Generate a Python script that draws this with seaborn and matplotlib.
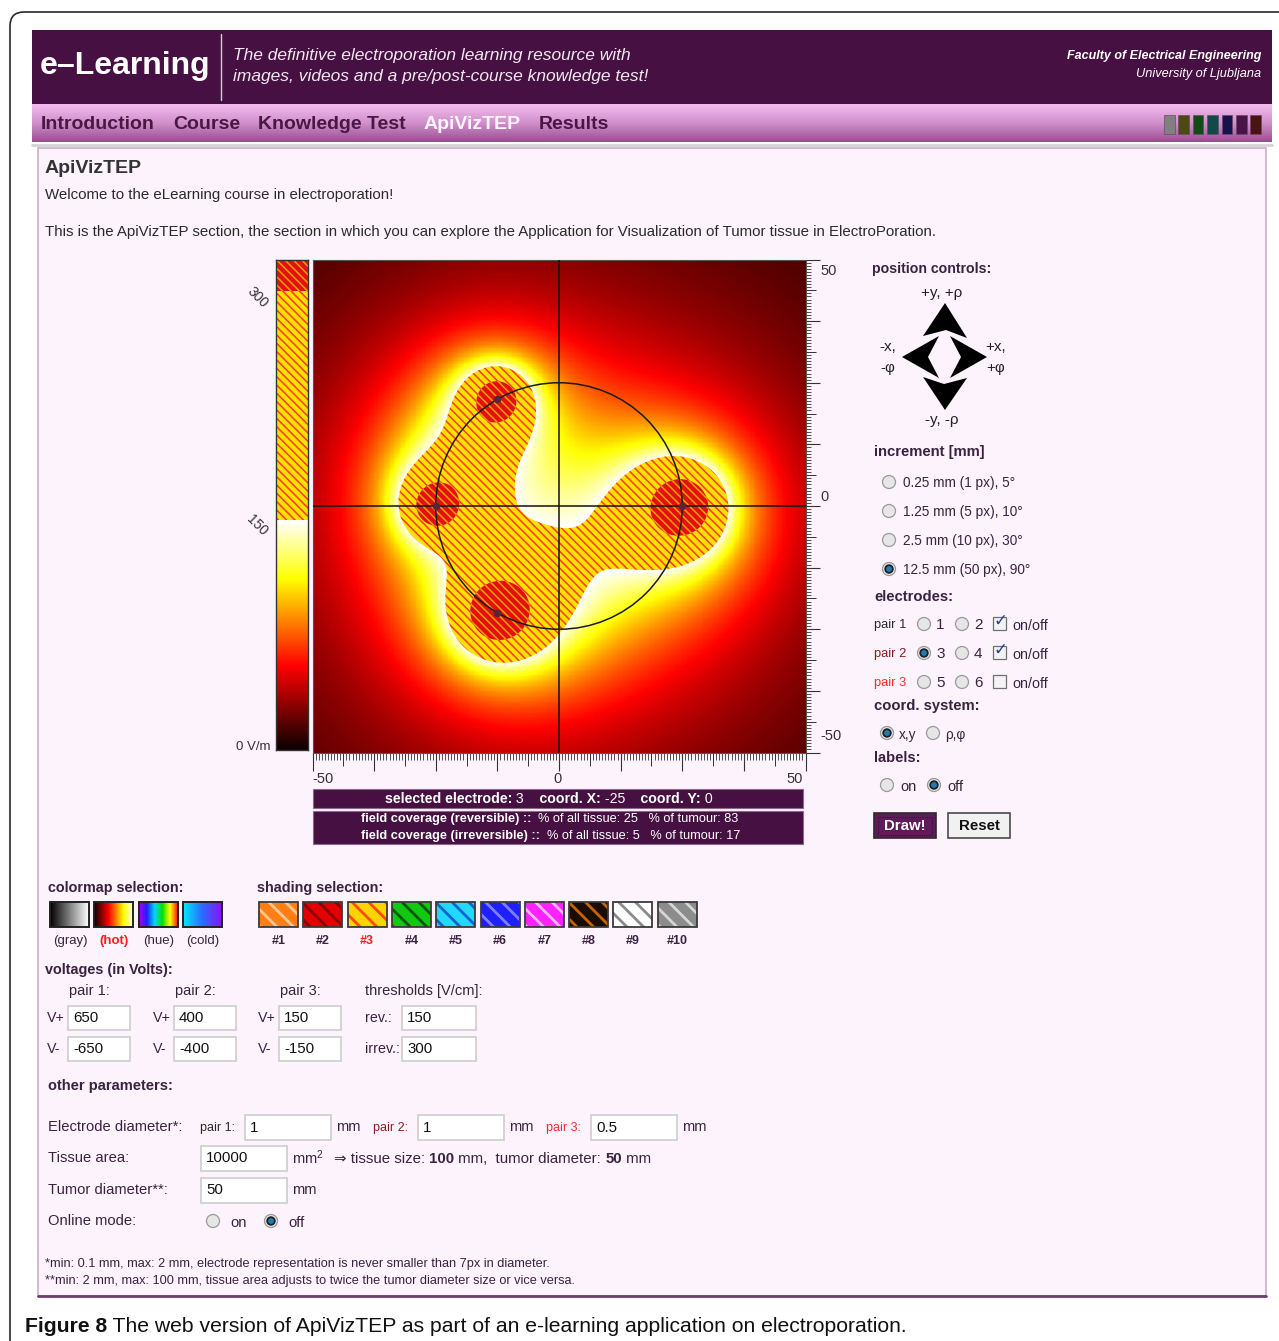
import numpy as np
import pandas as pd
import matplotlib
matplotlib.use("Agg")
import matplotlib.pyplot as plt
import seaborn as sns
from matplotlib.patches import Rectangle, Circle, Polygon, FancyBboxPatch, PathPatch
from matplotlib.colors import LinearSegmentedColormap

# ---------------- app state shown in the screenshot ----------------
tissue_size = 100            # mm
tumor_diameter = 50          # mm
tissue_area = 10000          # mm^2
electrode_no = [1, 2, 3, 4]
electrode_angle = [240, 0, 180, 120]      # position on the tumour rim [deg]
electrode_pair = [1, 1, 2, 2]
electrode_sign = [1, -1, 1, -1]
pair_labels = ["pair 1", "pair 2", "pair 3"]
v_plus = [650, 400, 150]
v_minus = [-650, -400, -150]
pair_on = [True, True, False]
electrode_diam = [1, 1, 0.5]              # mm
thr_rev = 150                             # V/cm
thr_irrev = 300                           # V/cm
cbar_top = 320                            # V/cm
sel_electrode, sel_x, sel_y = 3, -25, 0
cover_rev = (25, 83)
cover_irrev = (5, 17)
near_gain = 2.0                           # app calibration of the field model
far_gain = 2.2

nav_items = ["Introduction", "Course", "Knowledge Test", "ApiVizTEP", "Results"]
nav_x = [41, 173, 258, 424, 539]
nav_squares = ["#808080", "#4b4a12", "#124b14", "#124a4a", "#14134a", "#4a1246", "#4a1212"]
increments = ["0.25 mm (1 px), 5°", "1.25 mm (5 px), 10°", "2.5 mm (10 px), 30°", "12.5 mm (50 px), 90°"]
increment_sel = 3
cmap_labels = ["(gray)", "(hot)", "(hue)", "(cold)"]
cmap_sel = 1
shading_labels = ["#1", "#2", "#3", "#4", "#5", "#6", "#7", "#8", "#9", "#10"]
shading_bg = ["#ff7f14", "#e40000", "#ffd400", "#12c812", "#22d8ff", "#1e1eff", "#ff22ff", "#1a0d00", "#ffffff", "#8c8c8c"]
shading_fg = ["#ffc890", "#8c0000", "#ff4a00", "#005a00", "#1060d8", "#8080ff", "#ffb4ff", "#c86400", "#8a8a8a", "#d6d6d6"]
shading_sel = 2

# ---------------- style ----------------
sns.set_theme(style="white")
plt.rcParams["font.family"] = ["Liberation Sans", "DejaVu Sans"]
plt.rcParams["mathtext.default"] = "regular"
plt.rcParams["hatch.linewidth"] = 1.1

PURPLE = "#461042"
TXT = "#2a2a2a"
LBL = "#3a2240"
REV_BG, REV_HATCH = "#ffe000", "#ff3a10"
IRR_BG, IRR_HATCH = "#e41010", "#f0a000"
FINE_HATCH = "\\\\\\\\"
W, H = 1279, 1341

fig = plt.figure(figsize=(W / 100, H / 100), dpi=100)
ax = fig.add_axes([0, 0, 1, 1])
ax.axis("off")


def px_axes(l, t, w, h):
    return fig.add_axes([l / W, 1 - (t + h) / H, w / W, h / H])


def txt(x, y, s, size=10, weight="normal", color=TXT, ha="left", **kw):
    return ax.text(x, y, s, size=size, weight=weight, color=color, ha=ha, va="center", **kw)


def rich(x, y, parts, size=10, color=TXT):
    t = None
    for s, w in parts:
        if t is None:
            t = ax.text(x, y, s, size=size, weight=w, color=color, ha="left", va="center")
        else:
            t = ax.annotate(s, xy=(1, 0), xycoords=t, size=size, weight=w, color=color,
                            ha="left", va="bottom")
    return t


def radio(x, y, on=False):
    ax.add_patch(Circle((x, y), 6.5, fc="#e6e6e6", ec="#9a9a9a", lw=0.9))
    if on:
        ax.add_patch(Circle((x, y), 3.8, fc="#1f7cb8", ec="#202020", lw=1.3))


def checkbox(x, y, on=False):
    ax.add_patch(Rectangle((x - 6.5, y - 6.5), 13, 13, fc="#f3f3f3", ec="#707070", lw=0.9))
    if on:
        ax.text(x + 1, y - 2, "✓", size=12, color="#2b3f8f", ha="center", va="center",
                family=["DejaVu Sans"])


def inbox(x, top, w, h, val, size=10.8):
    ax.add_patch(Rectangle((x, top), w, h, fc="white", ec="#cdcdcd", lw=1.2))
    ax.text(x + 5, top + h / 2, val, size=size, color="#111111", ha="left", va="center")


# ---------------- page frame, header, navigation ----------------
ax.add_patch(FancyBboxPatch((10, 12), 1320, 1400, boxstyle="round,pad=0,rounding_size=14",
                            fc="white", ec="#2a2a2a", lw=1.2))
ax.add_patch(Rectangle((32, 30), 1240, 74, fc=PURPLE, ec="none"))
txt(40, 66, "e–Learning", size=23, weight="bold", color="white")
ax.plot([221, 221], [34, 100], color="#d8c8d6", lw=1)
txt(233, 55, "The definitive electroporation learning resource with", size=12.5, style="italic", color="#f2e8f1")
txt(233, 76, "images, videos and a pre/post-course knowledge test!", size=12.5, style="italic", color="#f2e8f1")
txt(1261, 56, "Faculty of Electrical Engineering", size=9, weight="bold", style="italic", color="white", ha="right")
txt(1261, 74, "University of Ljubljana", size=9.2, style="italic", color="white", ha="right")

nav_cmap = LinearSegmentedColormap.from_list("nav", ["#f3bcef", "#d08fca", "#9a4e94"])
ax.imshow(np.linspace(0, 1, 64)[:, None], extent=(32, 1272, 142, 104), cmap=nav_cmap,
          aspect="auto", zorder=1)
for name, x in zip(nav_items, nav_x):
    txt(x, 124, name, size=14, weight="bold", color="#fff4ff" if name == "ApiVizTEP" else "#4a1745", zorder=3)
for i, c in enumerate(nav_squares):
    ax.add_patch(Rectangle((1164 + i * 14.4, 115), 10.5, 19, fc=c, ec="#6a4a66", lw=0.5, zorder=3))
ax.plot([32, 1272], [145, 145], color="#d5d5d5", lw=2)

# content panel
ax.add_patch(Rectangle((38, 148), 1228, 1148, fc="#fdf3fc", ec="#c6b2c3", lw=1.2))
ax.plot([38, 1266], [1296, 1296], color="#6e3d69", lw=2)

txt(45, 168, "ApiVizTEP", size=14, weight="bold", color="#333333")
txt(45, 195, "Welcome to the eLearning course in electroporation!", size=10.8)
txt(45, 232, "This is the ApiVizTEP section, the section in which you can explore the Application "
             "for Visualization of Tumor tissue in ElectroPoration.", size=10.8)

# ---------------- electric field ----------------
n = 400
half = tissue_size / 2
xs = -half + (np.arange(n) + 0.5) * tissue_size / n
ys = xs[::-1]
X, Y = np.meshgrid(xs, ys)
R = tumor_diameter / 2
E = np.zeros_like(X)
for p in range(3):
    if not pair_on[p]:
        continue
    ex_sum = np.zeros_like(X)
    ey_sum = np.zeros_like(X)
    for ang, pr, sg in zip(electrode_angle, electrode_pair, electrode_sign):
        if pr != p + 1:
            continue
        px0, py0 = R * np.cos(np.radians(ang)), R * np.sin(np.radians(ang))
        dx, dy = X - px0, Y - py0
        r = np.maximum(np.hypot(dx, dy), electrode_diam[p] / 2)
        q = sg * v_plus[p]
        k = q * (near_gain / r ** 3 + far_gain / r ** 2)
        ex_sum += k * dx
        ey_sum += k * dy
    E += np.hypot(ex_sum, ey_sum)
field = pd.DataFrame(E, index=np.round(ys, 3), columns=np.round(xs, 3))


def ix(v):
    return (v + half) / tissue_size * n


def iy(v):
    return (half - v) / tissue_size * n


axf = px_axes(312.5, 259.5, 493, 493)
sns.heatmap(field, cmap="hot", vmin=0, vmax=thr_rev, cbar=False, xticklabels=False,
            yticklabels=False, ax=axf, rasterized=True)
cidx = np.arange(n) + 0.5
CX, CY = np.meshgrid(cidx, cidx)
zones = [(thr_rev, thr_irrev, REV_BG, REV_HATCH), (thr_irrev, E.max() + 1, IRR_BG, IRR_HATCH)]
for lo, hi, bg, hc in zones:
    cs = axf.contourf(CX, CY, E, levels=[lo, hi], colors=[bg])
    paths = cs.get_paths()
    cs.remove()
    for pth in paths:
        if len(pth.vertices):
            axf.add_patch(PathPatch(pth, fc=bg, ec=hc, lw=0, hatch=FINE_HATCH, zorder=3))
axf.axhline(iy(0), color="#111111", lw=1.1, zorder=4)
axf.axvline(ix(0), color="#111111", lw=1.1, zorder=4)
axf.add_patch(Circle((ix(0), iy(0)), R / tissue_size * n, fill=False, ec="#1a1a1a", lw=1.1, zorder=4))
for ang, pr in zip(electrode_angle, electrode_pair):
    if pair_on[pr - 1]:
        axf.scatter([ix(R * np.cos(np.radians(ang)))], [iy(R * np.sin(np.radians(ang)))],
                    s=30, color="#562836", zorder=5, linewidths=0)
axf.set_xlim(0, n)
axf.set_ylim(n, 0)
for s in axf.spines.values():
    s.set_visible(True)
    s.set_color("#555555")
    s.set_linewidth(0.8)

major = np.arange(-half, half + 0.01, 12.5)
medium = np.arange(-half + 6.25, half, 12.5)
minor = np.arange(-half, half + 0.01, 0.625)
axf.yaxis.tick_right()
axf.set_xticks(ix(major), labels=[])
axf.set_xticks(ix(minor), minor=True)
axf.set_yticks(iy(major), labels=[])
axf.set_yticks(iy(minor), minor=True)
axf.tick_params(axis="x", which="major", direction="out", length=13, width=0.8, color="#333333", bottom=True)
axf.tick_params(axis="x", which="minor", direction="out", length=5, width=0.6, color="#333333", bottom=True)
axf.tick_params(axis="y", which="major", direction="out", length=10, width=0.8, color="#333333", right=True, left=False)
axf.tick_params(axis="y", which="minor", direction="out", length=3.8, width=0.6, color="#333333", right=True, left=False)
secx = axf.secondary_xaxis("bottom")
secx.set_xticks(ix(medium), labels=[])
secx.tick_params(direction="out", length=9, width=0.7, color="#333333")
secx.spines["bottom"].set_visible(False)
secy = axf.secondary_yaxis("right")
secy.set_yticks(iy(medium), labels=[])
secy.tick_params(direction="out", length=7, width=0.7, color="#333333")
secy.spines["right"].set_visible(False)

for lab, y in zip(["50", "0", "-50"], [271, 497, 736]):
    txt(820, y, lab, size=10.5, color="#333333")
for lab, x in zip(["-50", "0", "50"], [323, 557, 795]):
    txt(x, 779, lab, size=10.5, color="#333333", ha="center")

# colour bar
axc = px_axes(276, 260, 32, 490)
axc.imshow(np.linspace(0, thr_rev, 256)[:, None], extent=(0, 1, 0, thr_rev), origin="lower",
           aspect="auto", cmap="hot", vmin=0, vmax=thr_rev)
axc.axhspan(thr_rev, thr_irrev, fc=REV_BG, ec=REV_HATCH, lw=0, hatch=FINE_HATCH)
axc.axhspan(thr_irrev, cbar_top, fc=IRR_BG, ec=IRR_HATCH, lw=0, hatch=FINE_HATCH)
axc.set_xlim(0, 1)
axc.set_ylim(0, cbar_top)
axc.set_xticks([])
axc.set_yticks([])
for s in axc.spines.values():
    s.set_visible(True)
    s.set_color("#333333")
    s.set_linewidth(1)
txt(257, 297, str(thr_irrev), size=10, color="#333333", ha="center", rotation=-45)
txt(257, 525, str(thr_rev), size=10, color="#333333", ha="center", rotation=-45)
txt(270, 747, "0 V/m", size=9.5, color="#333333", ha="right")

# status boxes
ax.add_patch(Rectangle((313, 789), 490, 19, fc=PURPLE, ec="#8a6a88", lw=0.8))
rich(385, 798.5, [("selected electrode:", "bold"), (f" {sel_electrode}", "normal"),
                  ("    coord. X:", "bold"), (f" {sel_x}", "normal"),
                  ("    coord. Y:", "bold"), (f" {sel_y}", "normal")], size=10.2, color="white")
ax.add_patch(Rectangle((313, 811), 490, 33, fc=PURPLE, ec="#8a6a88", lw=0.8))
rich(361, 819, [("field coverage (reversible) ::", "bold"),
                (f"  % of all tissue: {cover_rev[0]}   % of tumour: {cover_rev[1]}", "normal")],
     size=9.2, color="white")
rich(361, 836, [("field coverage (irreversible) ::", "bold"),
                (f"  % of all tissue: {cover_irrev[0]}   % of tumour: {cover_irrev[1]}", "normal")],
     size=9.2, color="white")

# ---------------- right control panel ----------------
txt(872, 269, "position controls:", size=10.2, weight="bold", color=LBL)
arrows = [[(945, 303), (967, 338), (946, 330), (923, 336)],
          [(945, 410), (923, 377), (944, 384), (967, 378)],
          [(902, 357), (939, 336), (928, 357), (939, 378)],
          [(987, 357), (950, 336), (961, 357), (950, 378)]]
for a in arrows:
    ax.add_patch(Polygon(a, closed=True, fc="black", ec="none"))
txt(942, 293, "+y, +ρ", size=11, color="#222222", ha="center")
txt(888, 347, "-x,", size=11, color="#222222", ha="center")
txt(888, 368, "-φ", size=11, color="#222222", ha="center")
txt(996, 347, "+x,", size=11, color="#222222", ha="center")
txt(996, 368, "+φ", size=11, color="#222222", ha="center")
txt(942, 420, "-y, -ρ", size=11, color="#222222", ha="center")

txt(874, 452, "increment [mm]", size=10.6, weight="bold", color=LBL)
for i, lab in enumerate(increments):
    y = 482 + i * 29
    radio(889, y, i == increment_sel)
    txt(903, y + 1, lab, size=9.8, color=LBL)

txt(874, 597, "electrodes:", size=10.6, weight="bold", color=LBL)
pair_colors = ["#2a2a2a", "#8b1c1c", "#ff2a2a"]
for p in range(3):
    y = 624 + p * 29
    txt(874, y + 1, pair_labels[p], size=9.3, color=pair_colors[p])
    radio(924, y, (2 * p + 1) == sel_electrode)
    txt(936, y + 1, str(2 * p + 1), size=11, color=LBL)
    radio(962, y, (2 * p + 2) == sel_electrode)
    txt(974, y + 1, str(2 * p + 2), size=11, color=LBL)
    checkbox(999, y - 1, pair_on[p])
    txt(1012, y + 2, "on/off", size=10.3, color=LBL)

txt(874, 706, "coord. system:", size=10.6, weight="bold", color=LBL)
radio(887, 733, True)
txt(899, 735, "x,y", size=9.8, color=LBL)
radio(933, 733, False)
txt(945, 735, "ρ,φ", size=9.8, color=LBL)
txt(874, 758, "labels:", size=10.6, weight="bold", color=LBL)
radio(887, 785, False)
txt(900, 787, "on", size=10.5, color=LBL)
radio(934, 785, True)
txt(947, 787, "off", size=10.5, color=LBL)

ax.add_patch(Rectangle((874, 813), 62, 25, fc="#5e1a59", ec="#2a2a2a", lw=1.2))
ax.add_patch(Rectangle((878, 816.5), 54, 18, fill=False, ec="#1a0a1a", lw=0.6, ls=":"))
txt(905, 826, "Draw!", size=10.8, weight="bold", color="white", ha="center")
ax.add_patch(Rectangle((948, 813), 62, 25, fc="#f1f1f1", ec="#4a4a4a", lw=1.2))
txt(979, 826, "Reset", size=10.8, weight="bold", color="#111111", ha="center")

# ---------------- colormap / shading selection ----------------
txt(48, 888, "colormap selection:", size=10.4, weight="bold", color=LBL)
hue_cmap = LinearSegmentedColormap.from_list("hue", ["#b000ff", "#2020ff", "#00d8ff", "#00e000", "#ffff00", "#ff1000"])
cold_cmap = LinearSegmentedColormap.from_list("cold", ["#00eaff", "#2a6cff", "#8a10ff"])
swatch_maps = ["gray", "hot", hue_cmap, cold_cmap]
grad = np.linspace(0, 1, 128)[None, :]
for i, (cm, lab) in enumerate(zip(swatch_maps, cmap_labels)):
    x0 = 50 + i * 44.3
    ax.imshow(grad, extent=(x0, x0 + 39, 927, 902), cmap=cm, aspect="auto", zorder=2)
    ax.add_patch(Rectangle((x0, 902), 39, 25, fill=False, ec="#222222", lw=1.4, zorder=3))
    sel = i == cmap_sel
    txt(x0 + 20, 941, lab, size=9.5, weight="bold" if sel else "normal",
        color="#ff1a1a" if sel else LBL, ha="center")

txt(257, 888, "shading selection:", size=10.4, weight="bold", color=LBL)
for i, lab in enumerate(shading_labels):
    x0 = 259 + i * 44.3
    sw = Rectangle((x0, 902), 39, 25, fc=shading_bg[i], ec=shading_fg[i], lw=0, hatch="\\\\", zorder=2)
    if hasattr(sw, "set_hatch_linewidth"):
        sw.set_hatch_linewidth(2.0)
    ax.add_patch(sw)
    ax.add_patch(Rectangle((x0, 902), 39, 25, fill=False, ec="#3a3a3a", lw=1.3, zorder=3))
    sel = i == shading_sel
    txt(x0 + 19.5, 941, lab, size=9, weight="bold", color="#ff1a1a" if sel else LBL, ha="center")

# ---------------- voltages ----------------
txt(45, 970, "voltages (in Volts):", size=10.4, weight="bold", color=LBL)
col_x = [68, 174, 279]
for p in range(3):
    txt(col_x[p] + 1, 991, pair_labels[p] + ":", size=10.5, color=LBL)
    txt(col_x[p] - 21, 1018, "V+", size=10.3, color=LBL)
    txt(col_x[p] - 21, 1049, "V-", size=10.3, color=LBL)
    inbox(col_x[p], 1006, 62, 24, str(v_plus[p]))
    inbox(col_x[p], 1037, 62, 24, str(v_minus[p]))
txt(365, 991, "thresholds [V/cm]:", size=10.5, color=LBL)
txt(365, 1018, "rev.:", size=10.3, color=LBL)
txt(365, 1049, "irrev.:", size=10.3, color=LBL)
inbox(402, 1006, 74, 24, str(thr_rev))
inbox(402, 1037, 74, 24, str(thr_irrev))

# ---------------- other parameters ----------------
txt(48, 1086, "other parameters:", size=10.5, weight="bold", color=LBL)
txt(48, 1127, "Electrode diameter*:", size=10.6, color=LBL)
diam_x = [245, 418, 591]
for p in range(3):
    txt(diam_x[p] - 45, 1128, pair_labels[p] + ":", size=9, color=pair_colors[p])
    inbox(diam_x[p], 1115, 86, 25, f"{electrode_diam[p]:g}")
    txt(diam_x[p] + 91, 1127, "mm", size=10.6, color=LBL)
txt(48, 1158, "Tissue area:", size=10.6, color=LBL)
inbox(201, 1146, 86, 25, str(tissue_area))
txt(292, 1158, "mm$^2$", size=10.6, color=LBL)
rich(334, 1159, [("⇒ tissue size: ", "normal"), (str(tissue_size), "bold"), (" mm,  tumor diameter: ", "normal"),
                 (str(tumor_diameter), "bold"), (" mm", "normal")], size=10.8, color=LBL)
txt(48, 1190, "Tumor diameter**:", size=10.6, color=LBL)
inbox(201, 1178, 86, 25, str(tumor_diameter))
txt(292, 1190, "mm", size=10.6, color=LBL)
txt(48, 1221, "Online mode:", size=10.6, color=LBL)
radio(213, 1221, False)
txt(230, 1223, "on", size=10.6, color=LBL)
radio(271, 1221, True)
txt(288, 1223, "off", size=10.6, color=LBL)

txt(45, 1264, "*min: 0.1 mm, max: 2 mm, electrode representation is never smaller than 7px in diameter.",
    size=9.2, color=LBL)
txt(45, 1281, "**min: 2 mm, max: 100 mm, tissue area adjusts to twice the tumor diameter size or vice versa.",
    size=9.2, color=LBL)

# caption
cap = ax.text(25, 1327, "Figure 8", size=15.2, weight="bold", color="#111111", ha="left", va="center")
ax.annotate(" The web version of ApiVizTEP as part of an e-learning application on electroporation.",
            xy=(1, 0), xycoords=cap, size=15.2, color="#111111", ha="left", va="bottom")

ax.set_xlim(0, W)
ax.set_ylim(H, 0)
fig.savefig("out.png", dpi=100)
